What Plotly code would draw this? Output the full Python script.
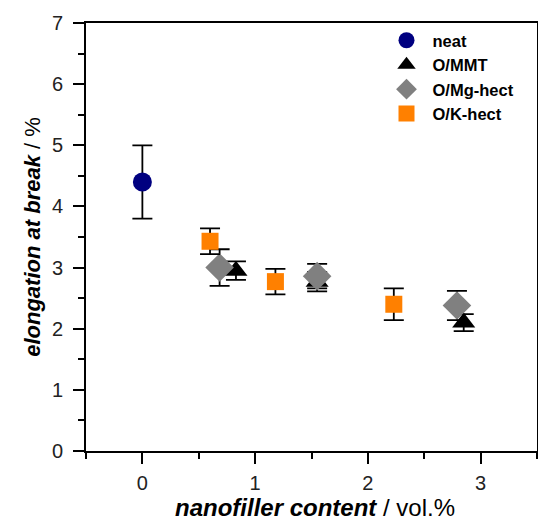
import plotly.graph_objects as go

# Elongation at break vs. nanofiller content
neat_x = [0.0]
neat_y = [4.4]
neat_err = [0.6]

mmt_x = [0.83, 1.55, 2.85]
mmt_y = [2.95, 2.77, 2.10]
mmt_err = [0.15, 0.16, 0.14]

mg_x = [0.685, 1.55, 2.79]
mg_y = [3.00, 2.86, 2.38]
mg_err = [0.30, 0.20, 0.24]

k_x = [0.60, 1.18, 2.23]
k_y = [3.43, 2.77, 2.40]
k_err = [0.21, 0.21, 0.26]

FONT = "Liberation Sans, Arial, sans-serif"


def err(vals):
    return dict(type="data", array=vals, visible=True, color="black",
                thickness=1.8, width=10)


fig = go.Figure()
fig.add_trace(go.Scatter(x=neat_x, y=neat_y, mode="markers", name="neat",
                         error_y=err(neat_err),
                         marker=dict(symbol="circle", size=19, color="#000080")))
fig.add_trace(go.Scatter(x=mmt_x, y=mmt_y, mode="markers", name="O/MMT",
                         error_y=err(mmt_err),
                         marker=dict(symbol="triangle-up", size=20, color="black")))
fig.add_trace(go.Scatter(x=mg_x, y=mg_y, mode="markers", name="O/Mg-hect",
                         error_y=err(mg_err),
                         marker=dict(symbol="diamond", size=22, color="#808080")))
fig.add_trace(go.Scatter(x=k_x, y=k_y, mode="markers", name="O/K-hect",
                         error_y=err(k_err),
                         marker=dict(symbol="square", size=17, color="#FF8000")))

fig.update_layout(
    width=538, height=522,
    margin=dict(l=86, r=1, t=23, b=71),
    plot_bgcolor="white", paper_bgcolor="white",
    font=dict(family=FONT, size=20, color="#222"),
    showlegend=True,
    legend=dict(x=0.653, y=1.0, xanchor="left", yanchor="top",
                bgcolor="rgba(0,0,0,0)", tracegroupgap=0, itemwidth=42,
                font=dict(family=FONT, size=16.5, color="black", weight="bold"),
                itemsizing="trace"),
    xaxis=dict(range=[-0.5, 3.5], tickvals=[0, 1, 2, 3], showgrid=False,
               zeroline=False, showline=True, linecolor="black", linewidth=2,
               mirror=True, ticks="outside", ticklen=11, tickwidth=2,
               tickcolor="black", automargin=False, ticklabelstandoff=2,
               minor=dict(tickvals=[-0.5, 0.5, 1.5, 2.5, 3.5], ticks="outside",
                          ticklen=6, tickwidth=2, tickcolor="black")),
    yaxis=dict(range=[0, 7], tickvals=list(range(8)), showgrid=False,
               zeroline=False, showline=True, linecolor="black", linewidth=2,
               mirror="allticks", ticks="outside", ticklen=11, tickwidth=2,
               tickcolor="black", automargin=False, ticklabelstandoff=6,
               minor=dict(tickvals=[0.5, 1.5, 2.5, 3.5, 4.5, 5.5, 6.5],
                          ticks="outside", ticklen=6, tickwidth=2,
                          tickcolor="black"),
               title=dict(text="<b><i>elongation at break</i></b> / %",
                          font=dict(family=FONT, size=22, color="black"),
                          standoff=5)),
    annotations=[dict(text="<b><i>nanofiller content</i></b> / vol.%",
                      xref="paper", yref="paper", x=0.507, y=-0.131,
                      xanchor="center", yanchor="middle", showarrow=False,
                      font=dict(family=FONT, size=24, color="black"))],
)

fig.write_html("out.html")
